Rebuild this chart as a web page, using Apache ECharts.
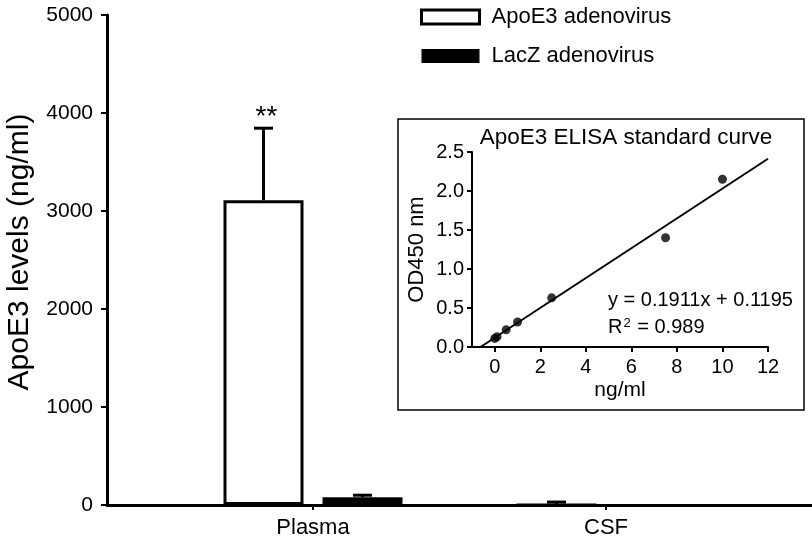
<!DOCTYPE html>
<html>
<head>
<meta charset="utf-8">
<script src="https://cdn.jsdelivr.net/npm/echarts@6/dist/echarts.min.js"></script>
<style>
  html, body { margin: 0; padding: 0; background: #fff; }
  #chart { width: 812px; height: 546px; }
</style>
</head>
<body>
<div id="chart"></div>
<script>
// main bar chart
const categories = ['Plasma', 'CSF']
const apoe3Means = [3110, 0]
const apoe3Errors = [735, 30]
const lacZMeans = [80, 0]
const lacZErrors = [20, 0]
const significance = ['**', '']

// inset: ELISA standard curve
const stdConc = [0, 0.1, 0.5, 1, 2.5, 7.5, 10]
const stdOD = [0.11, 0.13, 0.22, 0.32, 0.63, 1.40, 2.15]
const fitLine = [[-0.625, 0], [12, 2.413]]
const stdXTicks = [0, 2, 4, 6, 8, 10, 12]

const FONT = 'Arial, "Liberation Sans", Helvetica, sans-serif'
const BAR_W = 80
const BAR_GAP = 19
const CAP_W = 19

const chart = echarts.init(document.getElementById('chart'))

function errorBars(name, means, errs, side, labels) {
  return {
    type: 'custom',
    name: name,
    xAxisIndex: 0,
    yAxisIndex: 0,
    z: 5,
    silent: true,
    data: means.map((m, i) => [i, m, m + errs[i], labels ? labels[i] : '']),
    renderItem(params, api) {
      if (api.value(2) <= api.value(1)) return null
      const base = api.coord([api.value(0), api.value(1)])
      const top = api.coord([api.value(0), api.value(2)])
      const x = base[0] + side * (BAR_W + BAR_GAP) / 2
      const st = { stroke: '#000', lineWidth: 3 }
      return {
        type: 'group',
        children: [
          { type: 'line', shape: { x1: x, y1: base[1], x2: x, y2: top[1] }, style: st },
          { type: 'line', shape: { x1: x - CAP_W / 2, y1: top[1], x2: x + CAP_W / 2, y2: top[1] }, style: st },
          {
            type: 'text',
            style: {
              text: api.value(3) || '',
              x: x + 3,
              y: top[1] - 11,
              font: '28px ' + FONT,
              fill: '#000',
              textAlign: 'center',
              textVerticalAlign: 'middle'
            }
          }
        ]
      }
    }
  }
}

const option = {
  animation: false,
  backgroundColor: '#fff',
  textStyle: { fontFamily: FONT, color: '#000' },
  legend: {
    orient: 'vertical',
    left: 420,
    top: 6,
    padding: 0,
    itemWidth: 58,
    itemHeight: 14,
    itemGap: 17,
    textStyle: { fontSize: 22, color: '#000', padding: [0, 0, 0, 7] },
    data: [
      { name: 'ApoE3 adenovirus', icon: 'rect', itemStyle: { color: '#fff', borderColor: '#000', borderWidth: 3 } },
      { name: 'LacZ adenovirus', icon: 'rect', itemStyle: { color: '#000', borderWidth: 0 } }
    ]
  },
  graphic: [
    {
      type: 'rect',
      z: 0,
      shape: { x: 398, y: 119, width: 406, height: 291 },
      style: { fill: null, stroke: '#000', lineWidth: 1.5 }
    },
    {
      type: 'text',
      z: 10,
      style: {
        text: 'ApoE3 ELISA standard curve',
        x: 626, y: 138,
        font: '22.5px ' + FONT, fill: '#000',
        textAlign: 'center', textVerticalAlign: 'middle'
      }
    },
    {
      type: 'text',
      z: 10,
      style: {
        text: 'y = 0.1911x + 0.1195',
        x: 608, y: 300,
        font: '20px ' + FONT, fill: '#000',
        textAlign: 'left', textVerticalAlign: 'middle'
      }
    },
    {
      type: 'text',
      z: 10,
      style: {
        text: 'R{sup|2} = 0.989',
        x: 608, y: 327,
        font: '20px ' + FONT, fill: '#000',
        textAlign: 'left', textVerticalAlign: 'middle',
        rich: { sup: { fontSize: 13, verticalAlign: 'top', padding: [0, 1, 6, 1], fontFamily: FONT } }
      }
    }
  ],
  grid: [
    { left: 166.5, right: 59.5, top: 15, bottom: 41, outerBoundsMode: 'none' },
    { left: 107, right: 0, top: 15, bottom: 41, outerBoundsMode: 'none' },
    { left: 472, right: 44, top: 152, bottom: 199, outerBoundsMode: 'none' }
  ],
  xAxis: [
    {
      type: 'category',
      gridIndex: 0,
      data: categories,
      axisLine: { show: false },
      axisTick: { show: true, alignWithLabel: true, length: 5, lineStyle: { color: '#000', width: 2 } },
      axisLabel: { fontSize: 22, color: '#000', margin: 12 },
      splitLine: { show: false }
    },
    {
      type: 'value',
      gridIndex: 1,
      min: 0,
      max: 1,
      axisLine: { show: true, onZero: false, lineStyle: { color: '#000', width: 3 } },
      axisTick: { show: false },
      axisLabel: { show: false },
      splitLine: { show: false }
    },
    {
      type: 'value',
      gridIndex: 2,
      min: -1,
      max: 12,
      name: 'ng/ml',
      nameLocation: 'middle',
      nameGap: 33,
      nameTextStyle: { fontSize: 21, color: '#000' },
      axisLine: { show: true, onZero: false, lineStyle: { color: '#000', width: 2 } },
      axisTick: { show: true, customValues: stdXTicks, length: 5, lineStyle: { color: '#000', width: 2 } },
      axisLabel: { customValues: stdXTicks, fontSize: 20, color: '#000', margin: 10 },
      splitLine: { show: false }
    }
  ],
  yAxis: [
    {
      type: 'value',
      gridIndex: 0,
      min: 0,
      max: 5000,
      interval: 1000,
      offset: 59.5,
      name: 'ApoE3 levels (ng/ml)',
      nameLocation: 'middle',
      nameGap: 72,
      nameTextStyle: { fontSize: 30, color: '#000', padding: [0, 0, 0, 16] },
      axisLine: { show: true, onZero: false, lineStyle: { color: '#000', width: 3 } },
      axisTick: { show: true, length: 6, lineStyle: { color: '#000', width: 2 } },
      axisLabel: { fontSize: 21, color: '#000', margin: 14, formatter: v => String(v) },
      splitLine: { show: false }
    },
    {
      type: 'value',
      gridIndex: 1,
      show: false,
      min: 0,
      max: 1
    },
    {
      type: 'value',
      gridIndex: 2,
      min: 0,
      max: 2.5,
      interval: 0.5,
      name: 'OD450 nm',
      nameLocation: 'middle',
      nameGap: 44,
      nameTextStyle: { fontSize: 22, color: '#000' },
      axisLine: { show: true, onZero: false, lineStyle: { color: '#000', width: 2 } },
      axisTick: { show: true, length: 5, lineStyle: { color: '#000', width: 2 } },
      axisLabel: { fontSize: 20, color: '#000', margin: 8, formatter: v => v.toFixed(1) },
      splitLine: { show: false }
    }
  ],
  series: [
    {
      name: 'ApoE3 adenovirus',
      type: 'bar',
      xAxisIndex: 0,
      yAxisIndex: 0,
      barWidth: BAR_W,
      barGap: (BAR_GAP / BAR_W * 100) + '%',
      itemStyle: { color: '#fff', borderColor: '#000', borderWidth: 3 },
      z: 3,
      data: apoe3Means
    },
    {
      name: 'LacZ adenovirus',
      type: 'bar',
      xAxisIndex: 0,
      yAxisIndex: 0,
      barWidth: BAR_W,
      itemStyle: { color: '#000' },
      z: 3,
      data: lacZMeans
    },
    errorBars('ApoE3 error', apoe3Means, apoe3Errors, -1, significance),
    errorBars('LacZ error', lacZMeans, lacZErrors, 1, null),
    {
      name: 'fit',
      type: 'line',
      xAxisIndex: 2,
      yAxisIndex: 2,
      symbol: 'none',
      lineStyle: { color: '#000', width: 2 },
      data: fitLine,
      z: 4
    },
    {
      name: 'standards',
      type: 'scatter',
      xAxisIndex: 2,
      yAxisIndex: 2,
      symbolSize: 9,
      itemStyle: { color: '#000' },
      data: stdConc.map((x, i) => [x, stdOD[i]]),
      z: 5
    }
  ]
}

chart.setOption(option)
</script>
</body>
</html>
